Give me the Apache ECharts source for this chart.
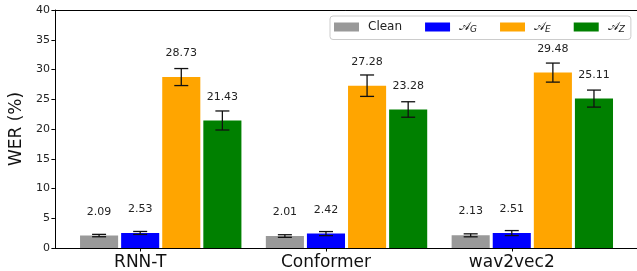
<!DOCTYPE html>
<html><head><meta charset="utf-8">
<script src="https://cdn.jsdelivr.net/npm/echarts@6/dist/echarts.min.js"></script>
<style>html,body{margin:0;padding:0;background:#fff}#c{width:637px;height:271px}</style>
</head><body><div id="c"></div>
<script>
var categories = ['RNN-T', 'Conformer', 'wav2vec2'];
var seriesNames = ['Clean', 'AG', 'AE', 'AZ'];
var cleanVals = [2.09, 2.01, 2.13];
var cleanErr = [0.20, 0.22, 0.25];
var agVals = [2.53, 2.42, 2.51];
var agErr = [0.25, 0.34, 0.42];
var aeVals = [28.73, 27.28, 29.48];
var aeErr = [1.43, 1.80, 1.60];
var azVals = [21.43, 23.28, 25.11];
var azErr = [1.60, 1.30, 1.43];
var yTicks = [0, 5, 10, 15, 20, 25, 30, 35, 40];

var colors = ['#999999', '#0000ff', '#ffa500', '#008000'];
var allVals = [cleanVals, agVals, aeVals, azVals];
var allErr = [cleanErr, agErr, aeErr, azErr];
var STEP = 0.2212, BARW = 0.205;
var FONT = 'DejaVu Sans';

var chart = echarts.init(document.getElementById('c'), null, {renderer: 'canvas'});

function mkSeries(j) {
  var data = categories.map(function (c, i) {
    return [i + (j - 1) * STEP, allVals[j][i], allErr[j][i]];
  });
  return {
    type: 'custom',
    name: seriesNames[j],
    itemStyle: {color: colors[j]},
    data: data,
    z: 2,
    renderItem: function (params, api) {
      var x = api.value(0), v = api.value(1), e = api.value(2);
      var p0 = api.coord([x - BARW / 2, 0]);
      var p1 = api.coord([x + BARW / 2, v]);
      var top = api.coord([x, v + e]);
      var bot = api.coord([x, v - e]);
      var lab = api.coord([x, v + 4]);
      var cap = 7;
      var es = {stroke: '#111', lineWidth: 1.3};
      return {
        type: 'group',
        children: [
          {type: 'rect', shape: {x: p0[0], y: p1[1], width: p1[0] - p0[0], height: p0[1] - p1[1]}, style: {fill: colors[j]}},
          {type: 'line', shape: {x1: top[0], y1: top[1], x2: bot[0], y2: bot[1]}, style: es},
          {type: 'line', shape: {x1: top[0] - cap, y1: top[1], x2: top[0] + cap, y2: top[1]}, style: es},
          {type: 'line', shape: {x1: bot[0] - cap, y1: bot[1], x2: bot[0] + cap, y2: bot[1]}, style: es},
          {type: 'text', x: lab[0], y: lab[1], style: {text: v.toFixed(2), fill: '#222', font: '11px "DejaVu Sans"', align: 'center', verticalAlign: 'middle'}}
        ]
      };
    }
  };
}

var legendRich = {
  a: {fontFamily: FONT, fontSize: 12, color: '#222'},
  s: {fontFamily: FONT, fontStyle: 'italic', fontSize: 9, color: '#222', verticalAlign: 'bottom', padding: [6, 0, 0, 0]},
  n: {fontFamily: FONT, fontSize: 12, color: '#222'}
};

var option = {
  animation: false,
  backgroundColor: '#fff',
  grid: {left: 52, right: 0, top: 10, bottom: 23, containLabel: false},
  legend: {
    left: 330, top: 16, width: 303,
    padding: [5, 6, 5, 4],
    borderColor: '#cccccc', borderWidth: 1, borderRadius: 3,
    icon: 'rect', itemWidth: 25, itemHeight: 9, itemGap: 23,
    data: seriesNames,
    textStyle: {fontFamily: FONT, fontSize: 12, color: '#222', rich: legendRich, padding: [0, 0, 0, 4]},
    formatter: function (n) {
      if (n === 'Clean') return '{n|Clean}';
      return '{a|\uD835\uDC9C}{s|' + n.charAt(1) + '}';
    }
  },
  xAxis: [{
    type: 'value', min: -0.459, max: 2.674,
    splitLine: {show: false},
    axisLine: {show: true, onZero: false, lineStyle: {color: '#000', width: 1}},
    axisTick: {show: true, length: 3.5, inside: false, customValues: [0, 1, 2], lineStyle: {color: '#000'}},
    axisLabel: {customValues: [0, 1, 2], fontFamily: FONT, fontSize: 17, color: '#111', margin: 6,
      formatter: function (v) { return categories[Math.round(v)]; }}
  }, {
    type: 'value', position: 'top', min: -0.459, max: 2.674,
    axisLine: {show: true, onZero: false, lineStyle: {color: '#000', width: 1}},
    axisTick: {show: false}, axisLabel: {show: false}, splitLine: {show: false}
  }],
  yAxis: {
    type: 'value', min: 0, max: 40, interval: 5,
    name: 'WER (%)', nameLocation: 'middle', nameGap: 25,
    nameTextStyle: {fontFamily: FONT, fontSize: 17, color: '#111'},
    splitLine: {show: false},
    axisLine: {show: true, onZero: false, lineStyle: {color: '#000', width: 1}},
    axisTick: {show: true, length: 3.5, lineStyle: {color: '#000'}},
    axisLabel: {fontFamily: FONT, fontSize: 11, color: '#222', margin: 5,
      formatter: function (v) { return yTicks.indexOf(v) >= 0 ? String(v) : ''; }}
  },
  series: [mkSeries(0), mkSeries(1), mkSeries(2), mkSeries(3)]
};
chart.setOption(option);
</script></body></html>
